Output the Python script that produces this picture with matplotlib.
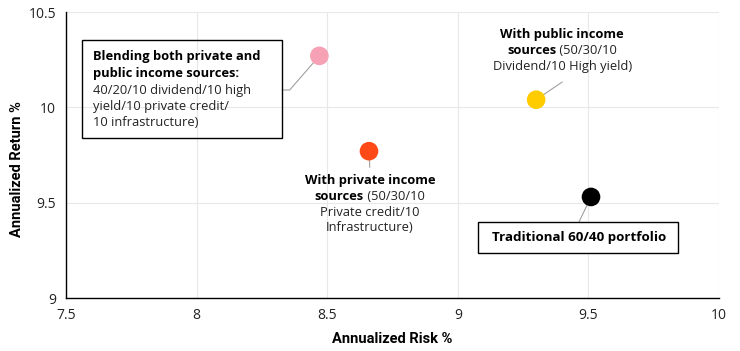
import matplotlib
matplotlib.use('Agg')
import matplotlib.pyplot as plt
from matplotlib.patches import Rectangle

plt.rcParams['font.family'] = ['Open Sans', 'DejaVu Sans']

# portfolio data
portfolios = ['Blending', 'Public', 'Private', 'Traditional']
risk = [8.47, 9.30, 8.66, 9.51]
ret = [10.27, 10.04, 9.77, 9.53]
colors = ['#F7A1B5', '#FFCC00', '#FF4A17', '#000000']

xticks = [7.5, 8, 8.5, 9, 9.5, 10]
yticks = [9, 9.5, 10, 10.5]
xtick_labels = ['7.5', '8', '8.5', '9', '9.5', '10']
ytick_labels = ['9', '9.5', '10', '10.5']

fig = plt.figure(figsize=(7.4, 3.51), dpi=100)
ax = fig.add_axes([66 / 740, 53 / 351, 653 / 740, 286 / 351])

ax.set_xlim(7.5, 10)
ax.set_ylim(9, 10.5)
ax.set_xticks(xticks, xtick_labels)
ax.set_yticks(yticks, ytick_labels)
ax.grid(True, color='#E8E8E8', lw=0.8)
ax.set_axisbelow(True)
for s in ['top', 'right']:
    ax.spines[s].set_visible(False)
for s in ['left', 'bottom']:
    ax.spines[s].set_color('black')
    ax.spines[s].set_linewidth(1.0)
ax.tick_params(length=0, labelsize=10, colors='#222222', pad=7)
lab_font = ['Roboto', 'DejaVu Sans']
ax.set_xlabel('Annualized Risk %', fontsize=10.5, fontweight='bold', labelpad=7, family=lab_font)
ax.set_ylabel('Annualized Return %', fontsize=10.5, fontweight='bold', family=lab_font)
ax.yaxis.set_label_coords(-0.064, 0.45)

ax.scatter(risk, ret, s=180, c=colors, zorder=5, linewidths=0)

fs = 9.3
txt_col = '#222222'
line_kw = dict(arrowstyle='-', color='#A0A0A0', lw=0.8, shrinkA=0, shrinkB=0)
renderer = fig.canvas.get_renderer()


def mixed_line(xc, y, bold_part, normal_part):
    # bold + regular text on one line, centred on xc
    t1 = ax.text(xc, y, bold_part, fontsize=fs, fontweight='bold', ha='left', va='center')
    t2 = ax.text(xc, y, ' ' + normal_part, fontsize=fs, ha='left', va='center', color=txt_col)
    w1 = t1.get_window_extent(renderer).width
    w2 = t2.get_window_extent(renderer).width
    inv = ax.transData.inverted()
    px0 = ax.transData.transform((xc, y))[0] - (w1 + w2) / 2
    t1.set_x(inv.transform((px0, 0))[0])
    t2.set_x(inv.transform((px0 + w1, 0))[0])


# blending box
ax.add_patch(Rectangle((7.561, 9.839), 0.766, 0.514, fill=False, ec='black', lw=1.0, zorder=4))
x0 = 7.603
ax.text(x0, 10.267, 'Blending both private and', fontsize=fs, fontweight='bold', va='center')
ax.text(x0, 10.176, 'public income sources:', fontsize=fs, fontweight='bold', va='center')
ax.text(x0, 10.087, '40/20/10 dividend/10 high', fontsize=fs, va='center', color=txt_col)
ax.text(x0, 10.003, 'yield/10 private credit/', fontsize=fs, va='center', color=txt_col)
ax.text(x0, 9.919, '10 infrastructure)', fontsize=fs, va='center', color=txt_col)
ax.annotate('', xy=(risk[0], ret[0]), xytext=(8.327, 10.091),
            arrowprops=dict(connectionstyle='angle,angleA=0,angleB=49,rad=0', **line_kw))

# public
ax.annotate('', xy=(risk[1], ret[1]), xytext=(9.40, 10.133), arrowprops=line_kw)
ax.text(9.40, 10.38, 'With public income', fontsize=fs, fontweight='bold', ha='center', va='center')
mixed_line(9.40, 10.297, 'sources', '(50/30/10')
ax.text(9.40, 10.213, 'Dividend/10 High yield)', fontsize=fs, ha='center', va='center', color=txt_col)

# private
ax.annotate('', xy=(risk[2], ret[2]), xytext=(8.663, 9.685), arrowprops=line_kw)
ax.text(8.663, 9.618, 'With private income', fontsize=fs, fontweight='bold', ha='center', va='center')
mixed_line(8.663, 9.534, 'sources', '(50/30/10')
ax.text(8.663, 9.450, 'Private credit/10', fontsize=fs, ha='center', va='center', color=txt_col)
ax.text(8.663, 9.371, 'Infrastructure)', fontsize=fs, ha='center', va='center', color=txt_col)

# traditional
ax.add_patch(Rectangle((9.077, 9.236), 0.766, 0.163, fc='white', ec='black', lw=1.0, zorder=4))
ax.annotate('', xy=(risk[3], ret[3]), xytext=(9.464, 9.399), arrowprops=line_kw)
ax.text(9.466, 9.315, 'Traditional 60/40 portfolio', fontsize=9.6, fontweight='bold', ha='center',
        va='center', zorder=6)

fig.savefig('out.png', dpi=100)
